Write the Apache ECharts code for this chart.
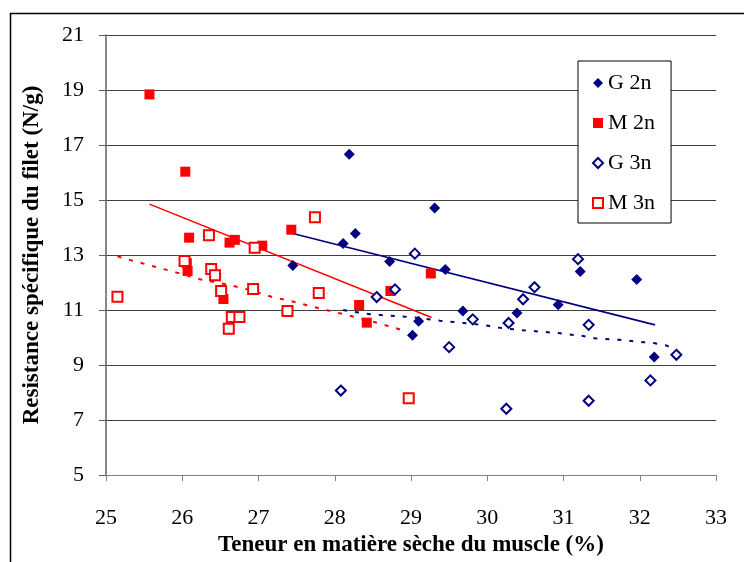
<!DOCTYPE html>
<html><head><meta charset="utf-8">
<script src="https://cdn.jsdelivr.net/npm/echarts@6/dist/echarts.min.js"></script>
<style>html,body{margin:0;padding:0;background:#fff}#c{width:744px;height:562px}</style>
</head><body><div id="c"></div>
<script>
var xTicks = [25, 33, 1];
var yTicks = [5, 21, 2];
var seriesNames = ['G 2n', 'M 2n', 'G 3n', 'M 3n'];
var g2n = [[28.19,16.66],[28.27,13.78],[28.11,13.42],[28.72,12.76],[27.45,12.62],[29.31,14.71],[29.45,12.47],[31.22,12.4],[31.96,12.11],[30.93,11.19],[29.68,10.96],[30.39,10.89],[29.1,10.59],[29.02,10.08],[32.19,9.29]];
var m2n = [[25.57,18.84],[26.04,16.03],[26.09,13.63],[26.62,13.45],[26.69,13.55],[27.05,13.34],[27.43,13.92],[26.06,12.7],[26.07,12.42],[26.54,11.4],[28.32,11.18],[28.42,10.54],[28.73,11.69],[29.26,12.33]];
var g3n = [[29.05,13.05],[28.55,11.47],[28.79,11.75],[28.08,8.07],[31.19,12.85],[30.62,11.83],[30.47,11.39],[29.81,10.66],[30.28,10.53],[31.33,10.46],[32.48,9.37],[29.5,9.65],[32.14,8.44],[31.33,7.7],[30.25,7.41]];
var m3n = [[25.15,11.48],[26.03,12.78],[26.35,13.72],[26.38,12.49],[26.43,12.26],[26.51,11.69],[26.93,11.76],[26.95,13.26],[27.74,14.37],[27.79,11.62],[26.65,10.75],[26.75,10.75],[26.61,10.32],[27.38,10.96],[28.97,7.79]];
var trendG2n = [[27.45,13.78],[32.2,10.46]];
var trendM2n = [[25.57,14.85],[29.27,10.73]];
var trendM3n = [[25.15,12.95],[25.34,12.8],[25.94,12.35],[26.23,12.12],[26.57,11.94],[26.87,11.74],[27.17,11.48],[27.49,11.28],[27.77,11.08],[28.08,10.87],[28.4,10.65],[28.69,10.43],[28.86,10.29]];
var trendG3n = [[28.11,11.0],[28.42,10.86],[28.73,10.79],[29.05,10.73],[29.38,10.61],[29.69,10.53],[30.01,10.43],[30.17,10.35],[30.47,10.26],[30.63,10.23],[30.93,10.16],[31.24,10.06],[31.41,9.97],[31.72,9.92],[32.05,9.83],[32.2,9.79],[32.35,9.71],[32.42,9.6]];

var NAVY = '#000080', RED = '#FF0000';
var FONT = 'Liberation Serif';
var chart = echarts.init(document.getElementById('c'), null, {renderer: 'canvas'});
function trend(data, color, dashed) {
  return {type: 'line', data: data, showSymbol: false, silent: true, smooth: false, z: 1,
    lineStyle: {color: color, width: dashed ? 2 : 1.6, type: dashed ? [4, 8] : 'solid'}};
}
chart.setOption({
  animation: false,
  backgroundColor: '#fff',
  graphic: [{type: 'polyline', shape: {points: [[10.5, 600], [10.5, 13.5], [760, 13.5]]}, style: {stroke: '#000', lineWidth: 1.5, fill: null}, z: 100}],
  grid: {left: 106, right: 28, top: 35, bottom: 86, containLabel: false},
  legend: {
    data: [{name: seriesNames[0], icon: 'diamond'}, {name: seriesNames[1], icon: 'rect'}, {name: seriesNames[2], icon: 'emptyDiamond'}, {name: seriesNames[3], icon: 'emptyRect'}],
    orient: 'vertical', left: 578, top: 61,
    backgroundColor: '#fff', borderColor: '#000', borderWidth: 1,
    padding: [11, 16, 9, 14], itemGap: 18, itemWidth: 10, itemHeight: 10,
    textStyle: {fontFamily: FONT, fontSize: 22, color: '#000', padding: [0, 0, 0, 0]}
  },
  xAxis: {
    type: 'value', min: xTicks[0], max: xTicks[1], interval: xTicks[2],
    name: 'Teneur en matière sèche du muscle (%)', nameLocation: 'middle', nameGap: 59,
    nameTextStyle: {fontFamily: FONT, fontSize: 23, fontWeight: 'bold', color: '#000'},
    axisLine: {lineStyle: {color: '#808080', width: 1.2}},
    axisTick: {show: true, length: 6, lineStyle: {color: '#808080'}},
    axisLabel: {fontFamily: FONT, fontSize: 22, color: '#000', margin: 32},
    splitLine: {show: false}
  },
  yAxis: {
    type: 'value', min: yTicks[0], max: yTicks[1], interval: yTicks[2],
    name: 'Resistance spécifique du filet (N/g)', nameLocation: 'middle', nameGap: 62,
    nameTextStyle: {fontFamily: FONT, fontSize: 23, fontWeight: 'bold', color: '#000'},
    axisLine: {show: true, lineStyle: {color: '#606060', width: 1.5}},
    axisTick: {show: true, length: 7, lineStyle: {color: '#606060'}},
    axisLabel: {fontFamily: FONT, fontSize: 22, color: '#000', margin: 22},
    splitLine: {show: true, lineStyle: {color: '#404040', width: 1.2}}
  },
  series: [
    {name: seriesNames[0], type: 'scatter', data: g2n, symbol: 'diamond', symbolSize: 11, itemStyle: {color: NAVY, opacity: 1}, z: 3},
    {name: seriesNames[1], type: 'scatter', data: m2n, symbol: 'rect', symbolSize: 10, itemStyle: {color: RED, opacity: 1}, z: 3},
    {name: seriesNames[2], type: 'scatter', data: g3n, symbol: 'emptyDiamond', symbolSize: 10, itemStyle: {color: NAVY, borderColor: NAVY, borderWidth: 2, opacity: 1}, z: 3},
    {name: seriesNames[3], type: 'scatter', data: m3n, symbol: 'emptyRect', symbolSize: 10, itemStyle: {color: RED, borderColor: RED, borderWidth: 2, opacity: 1}, z: 3},
    trend(trendG2n, NAVY, false),
    trend(trendM2n, RED, false),
    trend(trendM3n, RED, true),
    trend(trendG3n, NAVY, true)
  ]
});
</script></body></html>
